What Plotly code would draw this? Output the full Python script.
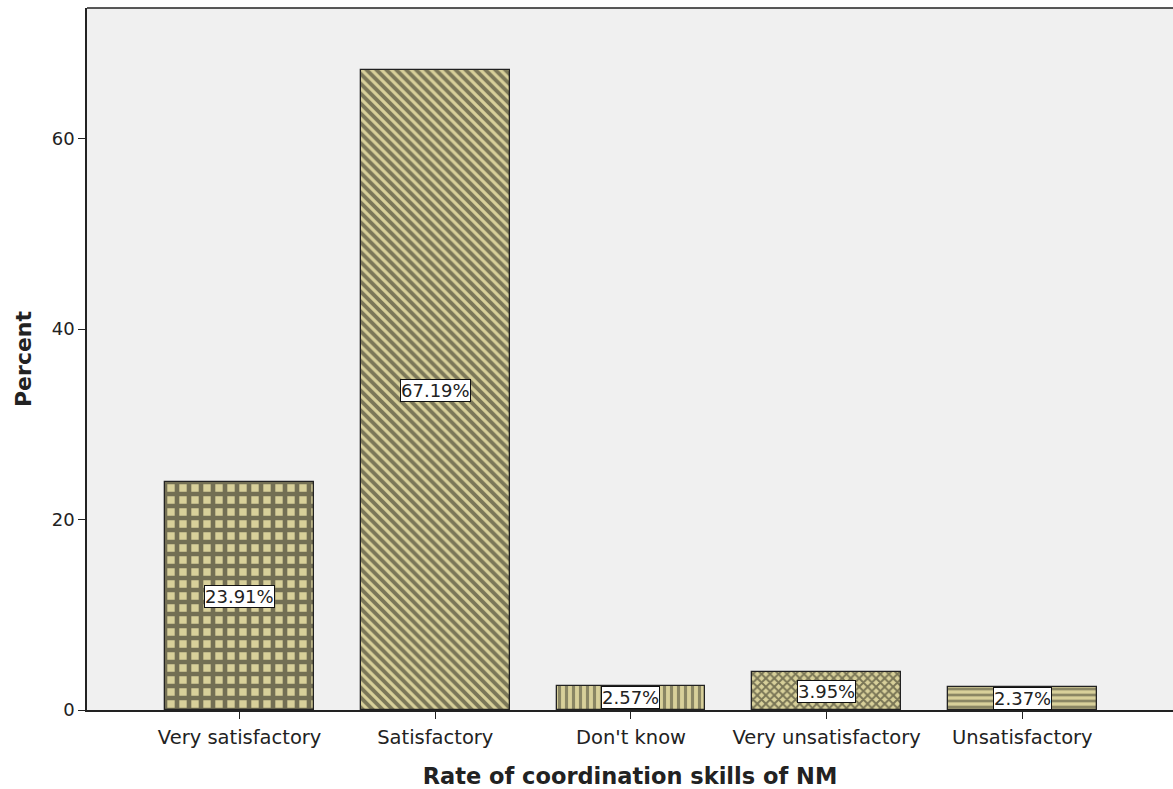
import plotly.graph_objects as go

categories = ["Very satisfactory", "Satisfactory", "Don't know", "Very unsatisfactory", "Unsatisfactory"]
percent = [23.91, 67.19, 2.57, 3.95, 2.37]
value_labels = ["23.91%", "67.19%", "2.57%", "3.95%", "2.37%"]
y_ticks = [0, 20, 40, 60]

fill_color = "#d8d09a"
patterns = [
    dict(shape="+", size=12, solidity=0.62, fgcolor="#0d0d0d", bgcolor=fill_color),
    dict(shape="\\", size=7, solidity=0.55, fgcolor="#1e1e16", bgcolor=fill_color),
    dict(shape="|", size=7, solidity=0.45, fgcolor="#3c3c2e", bgcolor=fill_color),
    dict(shape="x", size=6, solidity=0.55, fgcolor="#1a1a12", bgcolor=fill_color),
    dict(shape="-", size=6, solidity=0.45, fgcolor="#3c3c2e", bgcolor=fill_color),
]

font_family = "DejaVu Sans, Arial"

fig = go.Figure()
for i, cat in enumerate(categories):
    fig.add_trace(go.Bar(
        x=[i], y=[percent[i]], width=0.76,
        marker=dict(color=fill_color, pattern=patterns[i],
                    line=dict(color="#222222", width=1.3)),
        showlegend=False, hoverinfo="skip",
    ))
    fig.add_annotation(
        x=i, y=percent[i] / 2, text=value_labels[i], showarrow=False,
        font=dict(family=font_family, size=18, color="#222222"),
        bgcolor="white", bordercolor="#111111", borderwidth=1, borderpad=0,
    )

fig.update_layout(
    width=1173, height=789,
    margin=dict(l=87, r=0, t=8, b=79),
    paper_bgcolor="white", plot_bgcolor="#f0f0f0",
    font=dict(family=font_family, color="#222222"),
    bargap=0,
)
fig.update_xaxes(
    range=[-0.78, 4.77], tickmode="array", tickvals=list(range(len(categories))),
    ticktext=categories, ticks="outside", ticklen=7, tickcolor="#222222",
    tickfont=dict(size=19.5, color="#222222"), ticklabelstandoff=2,
    showline=True, linecolor="#222222", linewidth=1.5, mirror=False,
    showgrid=False, zeroline=False,
    title=dict(text="<b>Rate of coordination skills of NM</b>", font=dict(size=22.5), standoff=20),
)
fig.update_yaxes(
    range=[0, 73.7], tickmode="array", tickvals=y_ticks,
    ticks="outside", ticklen=7, tickcolor="#222222",
    tickfont=dict(size=18, color="#222222"),
    showline=True, linecolor="#222222", linewidth=1.5,
    showgrid=False, zeroline=False,
    title=dict(text="<b>Percent</b>", font=dict(size=22), standoff=14),
)
# top frame line of the plot area
fig.add_shape(type="line", xref="paper", yref="paper", x0=0, x1=1, y0=1, y1=1,
              line=dict(color="#222222", width=1.5))

fig.write_html("out.html")
